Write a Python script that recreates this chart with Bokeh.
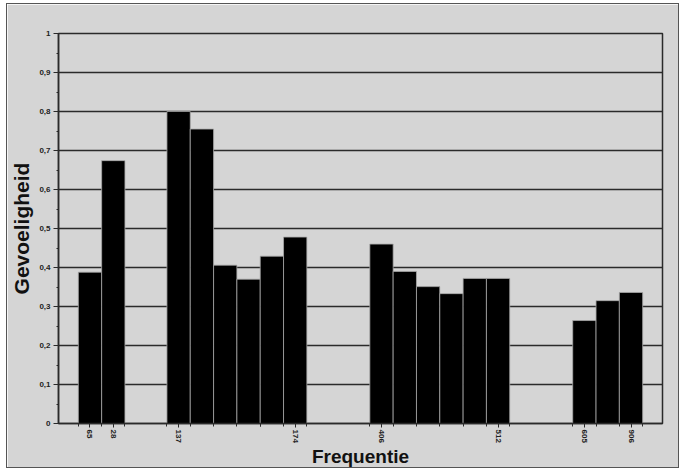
from bokeh.plotting import figure
from bokeh.models import FixedTicker, CustomJSTickFormatter, Range1d, ColumnDataSource
from bokeh.embed import file_html
from bokeh.resources import INLINE

# ---- data ----
labels = ["65", "28", "137", "", "", "", "", "174",
          "406", "", "", "", "", "512",
          "605", "", "906"]
values = [0.388, 0.674, 0.800, 0.755, 0.406, 0.370, 0.429, 0.478,
          0.460, 0.390, 0.351, 0.333, 0.372, 0.372,
          0.264, 0.315, 0.336]
groups = [0, 0, 1, 1, 1, 1, 1, 1, 2, 2, 2, 2, 2, 2, 3, 3, 3]
yticks = [0, 0.1, 0.2, 0.3, 0.4, 0.5, 0.6, 0.7, 0.8, 0.9, 1.0]

# ---- layout (gaps between groups, in bar widths) ----
gaps = [1.8, 2.7, 2.7]
xs = []
offset = 0.0
for i, g in enumerate(groups):
    if i > 0 and groups[i] != groups[i - 1]:
        offset += gaps[groups[i - 1]]
    xs.append(i + 0.5 + offset)

BG = "#d5d5d5"
DARK = "#2a2a2a"
FONT = "Liberation Sans"

p = figure(width=673, height=465,
           x_range=Range1d(-0.85, xs[-1] + 0.5 + 0.85),
           y_range=Range1d(0, 1),
           output_backend="svg", toolbar_location=None,
           min_border_left=50, min_border_right=18,
           min_border_top=29, min_border_bottom=43)
p.styles = {"border": "1px solid #555555", "margin-left": "6px", "margin-top": "3px"}
p.background_fill_color = BG
p.border_fill_color = BG
p.outline_line_color = DARK
p.outline_line_width = 1.5

src = ColumnDataSource(dict(x=xs, top=values))
p.vbar(x="x", top="top", bottom=0, width=1.0, source=src,
       fill_color="black", line_color="#a8a8a8", line_width=0.8)

# grid
p.xgrid.visible = False
p.ygrid.ticker = FixedTicker(ticks=yticks[1:])
p.ygrid.grid_line_color = DARK
p.ygrid.grid_line_width = 1.5

# y axis
p.yaxis.ticker = FixedTicker(ticks=yticks,
                             minor_ticks=[k * 0.05 for k in range(21)])
p.yaxis.formatter = CustomJSTickFormatter(code="""
    if (Math.abs(tick) < 1e-9) return '0';
    if (Math.abs(tick - 1) < 1e-9) return '1';
    return tick.toFixed(1).replace('.', ',');
""")
p.yaxis.axis_label = "Gevoeligheid"
p.yaxis.axis_label_text_font = FONT
p.yaxis.axis_label_text_font_style = "bold"
p.yaxis.axis_label_text_font_size = "21px"
p.yaxis.axis_label_text_color = "#111111"
p.yaxis.axis_label_standoff = 3
p.yaxis.major_label_text_font = FONT
p.yaxis.major_label_text_font_style = "bold"
p.yaxis.major_label_text_font_size = "8px"
p.yaxis.major_label_text_color = "#222222"
p.yaxis.major_label_standoff = 3
p.yaxis.axis_line_color = DARK
p.yaxis.axis_line_width = 1.5
p.yaxis.major_tick_line_color = DARK
p.yaxis.major_tick_out = 5
p.yaxis.major_tick_in = 0
p.yaxis.minor_tick_line_color = DARK
p.yaxis.minor_tick_out = 2
p.yaxis.minor_tick_in = 0

# x axis
lab_x = [x for x, l in zip(xs, labels) if l]
edges = sorted(set([x - 0.5 for x in xs] + [x + 0.5 for x in xs]))
p.xaxis.ticker = FixedTicker(ticks=lab_x, minor_ticks=edges)
p.xaxis.major_label_overrides = {x: l for x, l in zip(xs, labels) if l}
p.xaxis.major_label_orientation = "vertical"
p.xaxis.axis_label = "Frequentie"
p.xaxis.axis_label_text_font = FONT
p.xaxis.axis_label_text_font_style = "bold"
p.xaxis.axis_label_text_font_size = "19px"
p.xaxis.axis_label_text_color = "#111111"
p.xaxis.axis_label_standoff = 0
p.xaxis.major_label_text_font = FONT
p.xaxis.major_label_text_font_style = "bold"
p.xaxis.major_label_text_font_size = "8px"
p.xaxis.major_label_text_color = "#222222"
p.xaxis.major_label_standoff = 2
p.xaxis.axis_line_color = DARK
p.xaxis.axis_line_width = 1.5
p.xaxis.major_tick_line_color = DARK
p.xaxis.major_tick_out = 4
p.xaxis.major_tick_in = 0
p.xaxis.minor_tick_line_color = DARK
p.xaxis.minor_tick_out = 3
p.xaxis.minor_tick_in = 0

open("out.html", "w").write(file_html(p, INLINE))
